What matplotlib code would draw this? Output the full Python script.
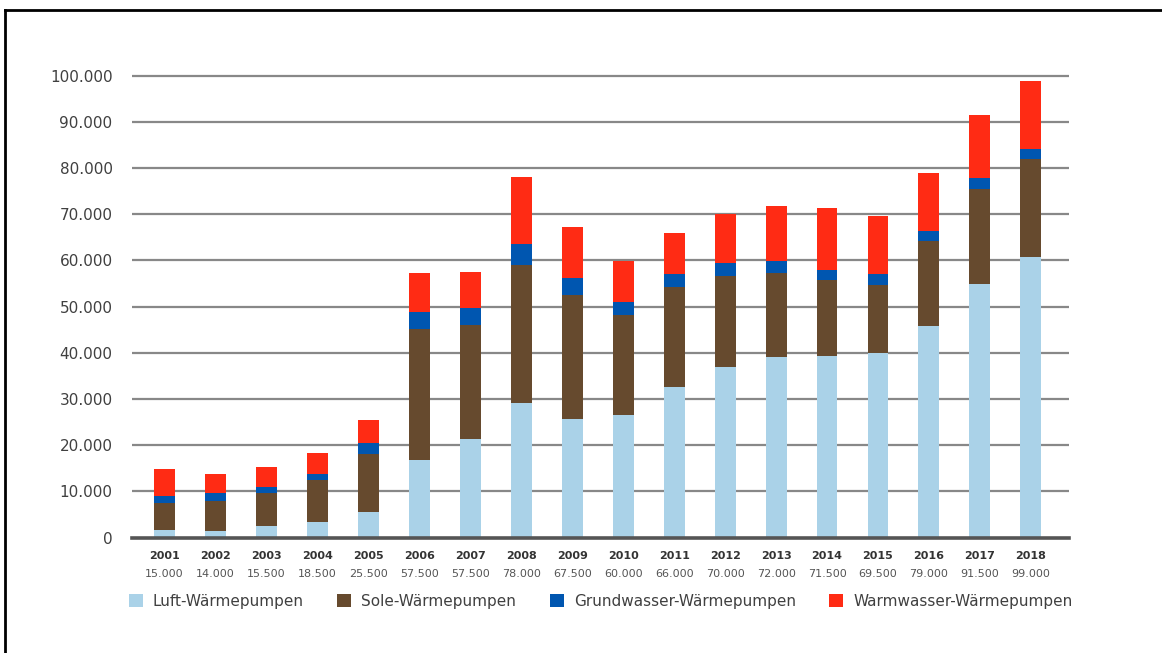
import numpy as np
import matplotlib
matplotlib.use("Agg")
import matplotlib.pyplot as plt
from matplotlib.lines import Line2D
from matplotlib.patches import Patch
from matplotlib.ticker import FuncFormatter

years = ['2001', '2002', '2003', '2004', '2005', '2006', '2007', '2008', '2009',
         '2010', '2011', '2012', '2013', '2014', '2015', '2016', '2017', '2018']
totals = ['15.000', '14.000', '15.500', '18.500', '25.500', '57.500', '57.500', '78.000', '67.500',
          '60.000', '66.000', '70.000', '72.000', '71.500', '69.500', '79.000', '91.500', '99.000']

# Absatz je Kategorie (aus dem Bild geschätzt)
luft = [1700, 1500, 2600, 3350, 5450, 16900, 21450, 29050, 25700,
        26500, 32700, 37000, 39000, 39300, 39900, 45800, 54800, 60700]
sole = [5900, 6400, 7050, 9050, 12750, 28200, 24550, 29950, 26800,
        21700, 21500, 19600, 18300, 16400, 14800, 18500, 20700, 21200]
grund = [1500, 1700, 1300, 1450, 2200, 3700, 3700, 4450, 3700,
         2800, 2800, 2800, 2600, 2200, 2300, 2100, 2300, 2100]
warm = [5700, 4200, 4350, 4500, 4970, 8400, 7800, 14600, 11100,
        8800, 8850, 10700, 11950, 13350, 12500, 12500, 13750, 14900]

labels = ['Luft-Wärmepumpen', 'Sole-Wärmepumpen', 'Grundwasser-Wärmepumpen', 'Warmwasser-Wärmepumpen']
colors = ['#aad2e8', '#664a2e', '#0056b0', '#ff2b14']

fig = plt.figure(figsize=(11.62, 6.53), dpi=100)
ax = fig.add_axes([0.1136, 0.1766, 0.8064, 0.7219])

x = np.arange(len(years))
bottom = np.zeros(len(years))
for vals, c in zip([luft, sole, grund, warm], colors):
    ax.bar(x, vals, width=0.41, bottom=bottom, color=c, zorder=3)
    bottom += np.array(vals)

ax.set_xlim(-0.64, 17.75)
ax.set_ylim(0, 102000)
ax.set_yticks(np.arange(0, 100001, 10000))
ax.yaxis.set_major_formatter(FuncFormatter(lambda v, p: f'{int(v):,}'.replace(',', '.')))
ax.tick_params(axis='y', length=0, pad=14, labelsize=11, labelcolor='#404040')
ax.set_xticks([])
for s in ax.spines.values():
    s.set_visible(False)

for v in range(10000, 100001, 10000):
    ax.axhline(v, color='#888888', lw=1.6, zorder=1)
ax.axhline(0, color='#555555', lw=2.6, zorder=4, clip_on=False)

# Jahr + Gesamtabsatz unter den Balken
trans = ax.get_xaxis_transform()
for i in range(len(years)):
    ax.text(i, -0.0396, years[i], transform=trans, ha='center', va='center',
            fontsize=8, fontweight='bold', color='#333333')
    ax.text(i, -0.0764, totals[i], transform=trans, ha='center', va='center',
            fontsize=8, color='#555555')

handles = [Patch(facecolor=c, edgecolor='none') for c in colors]
fig.legend(handles, labels, loc='center', bbox_to_anchor=(0.5168, 0.0796), ncol=4,
           frameon=False, fontsize=11, handlelength=0.92, handleheight=0.92,
           handletextpad=0.65, columnspacing=2.2, labelcolor='#404040')

# Rahmen links und oben
fig.add_artist(Line2D([0.0045, 0.0045], [0.0, 0.984], color='black', lw=2, transform=fig.transFigure))
fig.add_artist(Line2D([0.0045, 1.0], [0.984, 0.984], color='black', lw=2, transform=fig.transFigure))

fig.savefig('out.png', dpi=100)
